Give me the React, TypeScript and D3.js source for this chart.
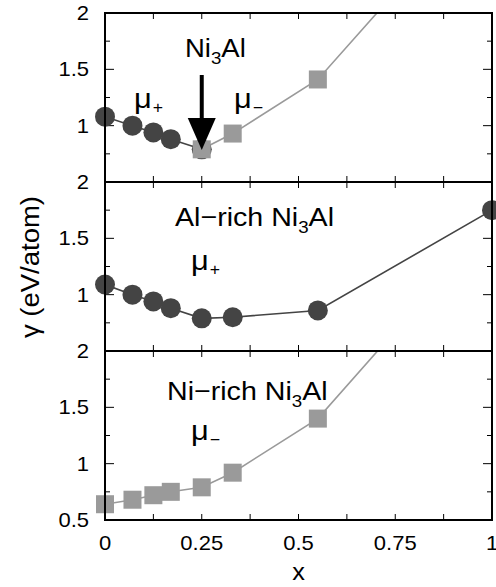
import React from "react";
import * as d3 from "d3";

const xCirc = [0, 0.071, 0.125, 0.17, 0.25];
const yCircTop = [1.08, 1.0, 0.94, 0.88, 0.79];
const xSqTop = [0.25, 0.33, 0.55, 1];
const ySqTop = [0.79, 0.93, 1.41, 3.15];

const xCircMid = [0, 0.071, 0.125, 0.17, 0.25, 0.33, 0.55, 1];
const yCircMid = [1.09, 1.0, 0.94, 0.88, 0.79, 0.8, 0.86, 1.75];

const xSqBot = [0, 0.071, 0.125, 0.17, 0.25, 0.33, 0.55, 1];
const ySqBot = [0.64, 0.68, 0.72, 0.75, 0.79, 0.92, 1.4, 3.15];

const xTicks = [0, 0.25, 0.5, 0.75, 1];
const xTickLabels = ["0", "0.25", "0.5", "0.75", "1"];
const yMajor = [0.5, 1, 1.5, 2];
const yLabelsTop = ["2", "1.5", "1"];
const yLabelsBot = ["2", "1.5", "1", "0.5"];

const W = 496, H = 587;
const L = 105, R = 492;
const panelTops = [13, 182, 351];
const PH = 169;
const FONT = "Liberation Sans, Arial, sans-serif";
const DARK = "#444444";
const GREY = "#9a9a9a";
const SX = 1.1;

const x = d3.scaleLinear().domain([0, 1]).range([L, R]);

function T({ x, y, children, size = 20, anchor = "start", rotate = 0, dy }: any) {
  return (
    <text
      transform={`translate(${x},${y}) rotate(${rotate}) scale(${SX},1)`}
      textAnchor={anchor}
      fontSize={size}
      fontFamily={FONT}
      dy={dy}
      fill="#000"
    >
      {children}
    </text>
  );
}

function Mu({ x, y, sub }: any) {
  return (
    <T x={x} y={y} size={28}>μ<tspan fontSize={16} dy={5} dx={1}>{sub}</tspan></T>
  );
}

function Panel({ idx, circ, sq, labels }: any) {
  const top = panelTops[idx];
  const y = d3.scaleLinear().domain([0.5, 2]).range([top + PH, top]);
  const line = d3.line<[number, number]>().x(d => x(d[0])).y(d => y(d[1]));
  const clipId = `clip${idx}`;
  const xMinor = d3.range(0, 1.0001, 0.125);
  const yTicks = d3.range(0.5, 2.0001, 0.25);
  return (
    <g>
      <defs>
        <clipPath id={clipId}>
          <rect x={L} y={top} width={R - L} height={PH} />
        </clipPath>
      </defs>
      {xMinor.map((t, i) => (
        <g key={"xt" + i}>
          <line x1={x(t)} x2={x(t)} y1={top} y2={top + 6} stroke="#000" strokeWidth={1} />
          <line x1={x(t)} x2={x(t)} y1={top + PH} y2={top + PH - 6} stroke="#000" strokeWidth={1} />
        </g>
      ))}
      {yTicks.map((t, i) => {
        const major = yMajor.some(m => Math.abs(m - t) < 1e-6);
        const len = major ? 9 : 5;
        return (
          <g key={"yt" + i}>
            <line x1={L} x2={L + len} y1={y(t)} y2={y(t)} stroke="#000" strokeWidth={1} />
            <line x1={R} x2={R - len} y1={y(t)} y2={y(t)} stroke="#000" strokeWidth={1} />
          </g>
        );
      })}
      {labels.map((lab: string) => (
        <T key={lab} x={89} y={y(+lab)} dy="0.35em" anchor="end" size={20}>{lab}</T>
      ))}
      <g clipPath={`url(#${clipId})`}>
        {circ && (
          <path d={line(circ[0].map((v: number, i: number) => [v, circ[1][i]]) as any) || ""} fill="none" stroke={DARK} strokeWidth={1.6} />
        )}
        {sq && (
          <path d={line(sq[0].map((v: number, i: number) => [v, sq[1][i]]) as any) || ""} fill="none" stroke={GREY} strokeWidth={1.6} />
        )}
      </g>
      {circ && circ[0].map((v: number, i: number) => (
        y(circ[1][i]) >= top ? <circle key={"c" + i} cx={x(v)} cy={y(circ[1][i])} r={10} fill={DARK} /> : null
      ))}
      {sq && sq[0].map((v: number, i: number) => (
        y(sq[1][i]) >= top ? <rect key={"s" + i} x={x(v) - 9} y={y(sq[1][i]) - 9} width={18} height={18} fill={GREY} /> : null
      ))}
      <rect x={L} y={top} width={R - L} height={PH} fill="none" stroke="#000" strokeWidth={2} />
    </g>
  );
}

export default function App() {
  return (
    <svg width={W} height={H} style={{ position: "absolute", left: 0, top: 0, background: "#fff" }}>
      <rect x={0} y={0} width={W} height={H} fill="#fff" />
      <Panel idx={0} circ={[xCirc, yCircTop]} sq={[xSqTop, ySqTop]} labels={yLabelsTop} />
      <Panel idx={1} circ={[xCircMid, yCircMid]} labels={yLabelsTop} />
      <Panel idx={2} sq={[xSqBot, ySqBot]} labels={yLabelsBot} />

      {xTicks.map((t, i) => (
        <T key={"xl" + i} x={x(t)} y={550} anchor="middle" size={20}>{xTickLabels[i]}</T>
      ))}
      <T x={x(0.5)} y={580} anchor="middle" size={23}>x</T>
      <T x={39} y={267} anchor="middle" size={25} rotate={-90}>γ (eV/atom)</T>

      {/* Top panel annotations */}
      <T x={185} y={57} size={25}>
        Ni<tspan fontSize={17} dy={7}>3</tspan><tspan dy={-7}>Al</tspan>
      </T>
      <line x1={x(0.25)} x2={x(0.25)} y1={75} y2={120} stroke="#000" strokeWidth={4} />
      <path d={`M${x(0.25) - 14},118 L${x(0.25) + 14},118 L${x(0.25)},150 Z`} fill="#000" />
      <Mu x={134} y={108} sub="+" />
      <Mu x={234} y={108} sub="−" />

      {/* Middle panel annotations */}
      <T x={175} y={226} size={26}>
        Al−rich Ni<tspan fontSize={17} dy={7}>3</tspan><tspan dy={-7}>Al</tspan>
      </T>
      <Mu x={191} y={270} sub="+" />

      {/* Bottom panel annotations */}
      <T x={167} y={400} size={26}>
        Ni−rich Ni<tspan fontSize={17} dy={7}>3</tspan><tspan dy={-7}>Al</tspan>
      </T>
      <Mu x={191} y={440} sub="−" />
    </svg>
  );
}
